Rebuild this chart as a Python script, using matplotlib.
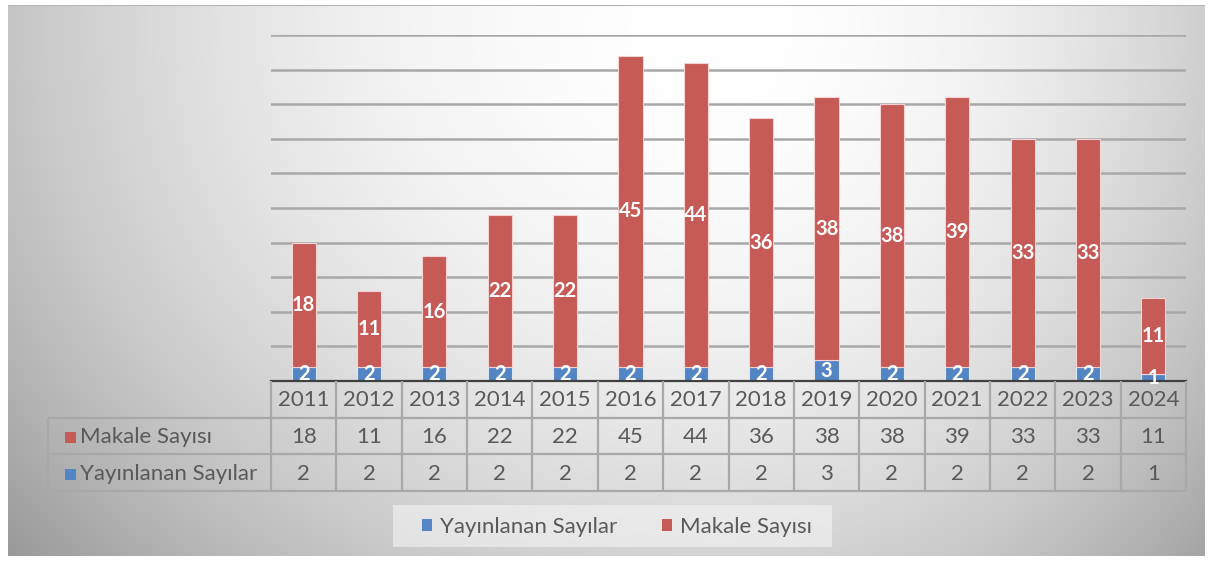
import numpy as np
import matplotlib
matplotlib.use("Agg")
import matplotlib.pyplot as plt
from matplotlib.patches import Patch, Rectangle
from matplotlib.lines import Line2D

plt.rcParams['font.family'] = ['Lato', 'DejaVu Sans']

years = ['2011', '2012', '2013', '2014', '2015', '2016', '2017', '2018', '2019',
         '2020', '2021', '2022', '2023', '2024']
yayinlanan = [2, 2, 2, 2, 2, 2, 2, 2, 3, 2, 2, 2, 2, 1]
makale = [18, 11, 16, 22, 22, 45, 44, 36, 38, 38, 39, 33, 33, 11]
series_names = ['Yayınlanan Sayılar', 'Makale Sayısı']

W, H = 1210, 563
fig = plt.figure(figsize=(W / 100, H / 100), dpi=100)
fig.patch.set_facecolor('white')

RED = '#C65A57'
BLUE = '#5384C3'
TXT = '#595959'
GRID = '#A8A8A8'

# ---- background gradient frame
fx0, fy0, fx1, fy1 = 8, 5, 1205, 556
bg = fig.add_axes([fx0 / W, 1 - fy1 / H, (fx1 - fx0) / W, (fy1 - fy0) / H], zorder=0)
xs = np.arange(fx0, fx1)
ys = np.arange(fy0, fy1)
X, Y = np.meshgrid(xs, ys)
cx, cy = 720, 30
dx = np.where(X < cx, (X - cx) / 720.0, (X - cx) / 540.0)
dy = (Y - cy) / 620.0
r2 = dx ** 2 + dy ** 2
val = np.clip(255 - 60 * r2, 0, 255) / 255.0
img = np.dstack([val, val, val])
bg.imshow(img, aspect='auto', extent=(0, 1, 0, 1), interpolation='bilinear')
bg.set_axis_off()
bg.add_line(Line2D([0, 1], [1, 1], transform=bg.transAxes, color='#b5b5b5', lw=1.5))

# ---- main bar axes
px0, px1 = 271, 1186
py_top, py_base = 35, 381
ax = fig.add_axes([px0 / W, 1 - py_base / H, (px1 - px0) / W, (py_base - py_top) / H], zorder=2)
ax.patch.set_alpha(0)
x = np.arange(len(years))
bw = 0.37
b1 = ax.bar(x, yayinlanan, bw, color=BLUE, edgecolor='#DDE7F3', linewidth=0.8, zorder=3)
b2 = ax.bar(x, makale, bw, bottom=yayinlanan, color=RED, edgecolor='#F4D3D2', linewidth=0.8, zorder=3)
ax.bar_label(b1, label_type='center', color='white', fontweight='bold', fontsize=14.5, zorder=5)
ax.bar_label(b2, label_type='center', color='white', fontweight='bold', fontsize=14.5, zorder=5)
ax.set_xlim(-0.5, len(years) - 0.5)
ax.set_ylim(0, 50)
ax.set_yticks(np.arange(5, 51, 5))
ax.yaxis.grid(True, color=GRID, lw=1.8, zorder=1)
ax.set_axisbelow(True)
for s in ['top', 'right', 'left']:
    ax.spines[s].set_visible(False)
ax.spines['bottom'].set_color('#404040')
ax.spines['bottom'].set_linewidth(1.6)
ax.spines['bottom'].set_zorder(4)
ax.tick_params(left=False, bottom=False, labelleft=False, labelbottom=False)

# ---- data table in pixel coordinates
ov = fig.add_axes([0, 0, 1, 1], zorder=3)
ov.set_xlim(0, W)
ov.set_ylim(H, 0)
ov.set_axis_off()
ov.patch.set_alpha(0)
colw = (px1 - px0) / len(years)
lx0 = 48
rows_y = [381, 418, 454, 491]
tlw = 1.6
for yy in rows_y[1:]:
    ov.plot([lx0, px1], [yy, yy], color=GRID, lw=tlw, solid_capstyle='butt')
for k in range(len(years) + 1):
    xx = px0 + k * colw
    ov.plot([xx, xx], [rows_y[0], rows_y[3]], color=GRID, lw=tlw, solid_capstyle='butt')
ov.plot([lx0, lx0], [rows_y[1], rows_y[3]], color=GRID, lw=tlw, solid_capstyle='butt')

fs = 16
for i, yr in enumerate(years):
    cxp = px0 + (i + 0.5) * colw
    ov.text(cxp, (rows_y[0] + rows_y[1]) / 2 + 1, yr, ha='center', va='center', fontsize=fs, color=TXT)
    ov.text(cxp, (rows_y[1] + rows_y[2]) / 2 + 1, str(makale[i]), ha='center', va='center', fontsize=fs, color=TXT)
    ov.text(cxp, (rows_y[2] + rows_y[3]) / 2 + 1, str(yayinlanan[i]), ha='center', va='center', fontsize=fs, color=TXT)

for (name, col, r) in [(series_names[1], RED, 1), (series_names[0], BLUE, 2)]:
    ymid = (rows_y[r] + rows_y[r + 1]) / 2
    ov.add_patch(Rectangle((65, ymid - 4), 11, 11, facecolor=col, edgecolor='none'))
    ov.text(80, ymid + 1, name, ha='left', va='center', fontsize=fs, color=TXT)

# ---- legend
ov.add_patch(Rectangle((393, 505), 439, 42, facecolor='#f4f4f4', alpha=0.6, edgecolor='none'))
handles = [Patch(facecolor=BLUE, edgecolor='none'), Patch(facecolor=RED, edgecolor='none')]
fig.legend(handles, series_names, ncol=2, loc='center', bbox_to_anchor=(617 / W, 1 - 527 / H),
           frameon=False, fontsize=fs, labelcolor=TXT, handlelength=0.45, handleheight=0.45,
           handletextpad=0.35, columnspacing=2.0)

fig.savefig('out.png', dpi=100)
